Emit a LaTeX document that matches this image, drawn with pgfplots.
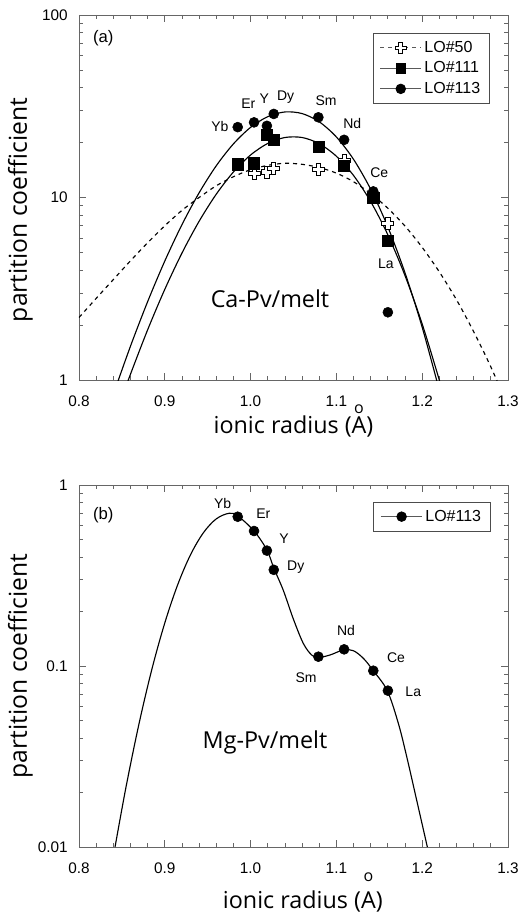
\documentclass[border=0pt]{standalone}
\usepackage{pgfplots}
\pgfplotsset{compat=1.18}
\usepackage{fontspec}
\setmainfont{Liberation Sans}
\newfontfamily\labelfont{Open Sans}

% open (white-filled) cross marker
\pgfdeclareplotmark{opencross}{%
  \pgfpathmoveto{\pgfqpoint{-0.35\pgfplotmarksize}{\pgfplotmarksize}}%
  \pgfpathlineto{\pgfqpoint{0.35\pgfplotmarksize}{\pgfplotmarksize}}%
  \pgfpathlineto{\pgfqpoint{0.35\pgfplotmarksize}{0.35\pgfplotmarksize}}%
  \pgfpathlineto{\pgfqpoint{\pgfplotmarksize}{0.35\pgfplotmarksize}}%
  \pgfpathlineto{\pgfqpoint{\pgfplotmarksize}{-0.35\pgfplotmarksize}}%
  \pgfpathlineto{\pgfqpoint{0.35\pgfplotmarksize}{-0.35\pgfplotmarksize}}%
  \pgfpathlineto{\pgfqpoint{0.35\pgfplotmarksize}{-\pgfplotmarksize}}%
  \pgfpathlineto{\pgfqpoint{-0.35\pgfplotmarksize}{-\pgfplotmarksize}}%
  \pgfpathlineto{\pgfqpoint{-0.35\pgfplotmarksize}{-0.35\pgfplotmarksize}}%
  \pgfpathlineto{\pgfqpoint{-\pgfplotmarksize}{-0.35\pgfplotmarksize}}%
  \pgfpathlineto{\pgfqpoint{-\pgfplotmarksize}{0.35\pgfplotmarksize}}%
  \pgfpathlineto{\pgfqpoint{-0.35\pgfplotmarksize}{0.35\pgfplotmarksize}}%
  \pgfpathclose
  \pgfusepathqfillstroke
}

% "A" with a ring set above it
\newcommand{\ringA}[1]{\ooalign{A\cr\hidewidth\raisebox{#1}{\fontsize{12}{12}\selectfont o}\hidewidth\cr}}

\tikzset{
  elem/.style={font=\fontsize{10.5}{12}\selectfont, anchor=center, inner sep=0pt},
}

\pgfplotsset{
  pcaxis/.style={
    scale only axis, width=321.75pt,
    xmin=0.8, xmax=1.3,
    xtick={0.8,0.9,1.0,1.1,1.2,1.3},
    xticklabels={0.8,0.9,1.0,1.1,1.2,1.3},
    minor x tick num=4,
    tick align=inside,
    xtick pos=both, ytick pos=both,
    major tick length=5.25pt, minor tick length=2.8pt,
    axis line style={black!60, line width=0.7pt},
    every tick/.style={black!60, line width=0.6pt},
    tick label style={font=\fontsize{11.5}{13}\selectfont, /pgf/number format/assume math mode=true},
    xticklabel style={yshift=-8.5pt},
    yticklabel style={xshift=-5pt},
    every axis x label/.style={at={(axis description cs:0.5,0)}, anchor=base, yshift=-39.75pt,
      font=\labelfont\fontsize{17.5}{20}\selectfont},
    every axis y label/.style={at={(axis description cs:-0.1368,0.5)}, anchor=center, rotate=90,
      font=\labelfont\fontsize{18.5}{20}\selectfont},
    legend style={anchor=north east, draw=black!70, line width=0.6pt,
      font=\fontsize{12}{13}\selectfont, cells={anchor=west},
      inner xsep=5pt, inner ysep=4pt, row sep=1.5pt},
    legend image code/.code={%
      \draw[mark repeat=2,mark phase=2,#1] plot coordinates {(0pt,0pt) (15.5pt,0pt) (31pt,0pt)};},
  },
  fitline/.style={black, line width=0.85pt, smooth, no markers},
}

\begin{document}
\begin{tikzpicture}
\useasboundingbox (-59.25pt,-400.5pt) rectangle (331.5pt,285pt);

% ---------------- (a) Ca-perovskite / melt ----------------
\begin{axis}[ymode=log, pcaxis,
  at={(0,0)}, anchor=south west, height=273.75pt,
  ymin=1, ymax=100,
  ytick={1,10,100}, yticklabels={1,10,100},
  minor ytick={2,3,4,5,6,7,8,9,20,30,40,50,60,70,80,90},
  xlabel={ionic radius (\ringA{15pt})},
  ylabel={partition coefficient},
  every axis y label/.append style={at={(axis description cs:-0.1368,0.466)}},
  legend style={at={(0.958,0.951)}},
]
\addlegendimage{black!65, dash pattern=on 3pt off 3pt, mark=opencross, mark size=4pt,
  mark options={solid, black, fill=white, line width=0.6pt}}
\addlegendentry{LO\#50}
\addlegendimage{black!65, mark=square*, mark size=3.6pt, mark options={black, fill=black}}
\addlegendentry{LO\#111}
\addlegendimage{black!65, mark=*, mark size=3.6pt, mark options={black, fill=black}}
\addlegendentry{LO\#113}

% lattice-strain fits
\addplot[fitline, dash pattern=on 3pt off 3pt, forget plot] coordinates {
 (0.80,2.20) (0.82,2.80) (0.84,3.55) (0.86,4.50) (0.88,5.65) (0.90,7.00)
 (0.92,8.50) (0.94,10.0) (0.96,11.6) (0.98,13.0) (1.00,14.2) (1.02,15.0)
 (1.04,15.4) (1.06,15.2) (1.08,14.6) (1.10,13.6) (1.12,12.2) (1.14,10.5)
 (1.16,8.73) (1.18,6.97) (1.20,5.33) (1.22,3.91) (1.24,2.75) (1.26,1.84)
 (1.28,1.18) (1.30,0.717)};
\addplot[fitline, forget plot] coordinates {
 (0.85,0.799) (0.86,1.076) (0.88,1.884) (0.90,3.139) (0.92,4.96) (0.94,7.41)
 (0.96,10.43) (0.98,13.80) (1.00,17.10) (1.02,19.79) (1.04,21.32) (1.06,21.32)
 (1.08,19.72) (1.10,16.83) (1.12,13.20) (1.14,9.49) (1.16,6.24) (1.18,3.73)
 (1.20,2.026) (1.22,0.997) (1.23,0.673)};
\addplot[fitline, forget plot] coordinates {
 (0.84,0.834) (0.86,1.532) (0.88,2.687) (0.90,4.487) (0.92,7.10) (0.94,10.61)
 (0.96,14.93) (0.98,19.68) (1.00,24.23) (1.02,27.74) (1.04,29.43) (1.06,28.84)
 (1.08,25.99) (1.10,21.46) (1.12,16.18) (1.14,11.09) (1.16,6.89) (1.18,3.86)
 (1.20,1.944) (1.22,0.877)};

% measured partition coefficients
\addplot[only marks, mark=opencross, mark size=4.5pt, mark options={black, fill=white, line width=0.6pt}, forget plot]
 coordinates {(1.004,13.6) (1.019,13.8) (1.027,14.5) (1.079,14.2) (1.109,16.0) (1.143,10.4) (1.160,7.2)};
\addplot[only marks, mark=square*, mark size=4.2pt, mark options={black, fill=black}, forget plot]
 coordinates {(0.985,15.2) (1.004,15.4) (1.019,22.0) (1.027,20.8) (1.079,19.0) (1.109,14.9) (1.143,10.0) (1.160,5.8)};
\addplot[only marks, mark=*, mark size=3.75pt, mark options={black, fill=black}, forget plot]
 coordinates {(0.985,24.3) (1.004,25.8) (1.019,24.7) (1.027,28.7) (1.079,27.5) (1.109,20.7) (1.143,10.8) (1.160,2.35)};

\node[elem] at (axis cs:0.9643,24.4) {Yb};
\node[elem] at (axis cs:0.9973,32.8) {Er};
\node[elem] at (axis cs:1.0160,34.7) {Y};
\node[elem] at (axis cs:1.0409,35.7) {Dy};
\node[elem] at (axis cs:1.0879,33.9) {Sm};
\node[elem] at (axis cs:1.1185,25.5) {Nd};
\node[elem] at (axis cs:1.1500,13.7) {Ce};
\node[elem] at (axis cs:1.1578,4.36) {La};
\node[font=\fontsize{12.5}{14}\selectfont, anchor=center] at (axis cs:0.8283,74.5) {(a)};
\node[font=\labelfont\fontsize{17.5}{20}\selectfont, anchor=center] at (axis cs:1.0226,2.78) {Ca-Pv/melt};
\end{axis}

% ---------------- (b) Mg-perovskite / melt ----------------
\begin{axis}[ymode=log, pcaxis,
  at={(0,-78.75pt)}, anchor=north west, height=271.5pt,
  ymin=0.01, ymax=1,
  ytick={0.01,0.1,1}, yticklabels={0.01,0.1,1},
  minor ytick={0.02,0.03,0.04,0.05,0.06,0.07,0.08,0.09,0.2,0.3,0.4,0.5,0.6,0.7,0.8,0.9},
  xlabel={ionic radius (\ringA{20pt})},
  every axis x label/.append style={yshift=-6pt, xshift=7pt},
  ylabel={partition coefficient},
  legend style={at={(0.960,0.954)}},
]
\addlegendimage{black!65, mark=*, mark size=3.6pt, mark options={black, fill=black}}
\addlegendentry{LO\#113}

\addplot[fitline, tension=0.55, forget plot] coordinates {
 (0.842,0.0100) (0.855,0.0217) (0.870,0.0481) (0.885,0.0962) (0.900,0.173)
 (0.915,0.281) (0.930,0.412) (0.945,0.545) (0.960,0.650) (0.975,0.698)
 (0.985,0.675) (1.004,0.557) (1.019,0.438) (1.027,0.348) (1.0381,0.262)
 (1.0498,0.182) (1.0614,0.1334) (1.0712,0.1150) (1.079,0.1115) (1.0925,0.1150)
 (1.108,0.1226) (1.1197,0.1215) (1.1314,0.1103) (1.143,0.0942) (1.1593,0.0731)
 (1.1722,0.0482) (1.182,0.0315) (1.1935,0.0182) (1.206,0.0100)};

\addplot[only marks, mark=*, mark size=3.75pt, mark options={black, fill=black}, forget plot]
 coordinates {(0.985,0.668) (1.004,0.557) (1.019,0.434) (1.027,0.340) (1.079,0.1126) (1.109,0.1236) (1.143,0.0942) (1.160,0.0731)};

\node[elem] at (axis cs:0.9675,0.792) {Yb};
\node[elem] at (axis cs:1.0148,0.698) {Er};
\node[elem] at (axis cs:1.0389,0.508) {Y};
\node[elem] at (axis cs:1.0526,0.354) {Dy};
\node[elem] at (axis cs:1.0646,0.0862) {Sm};
\node[elem] at (axis cs:1.1112,0.158) {Nd};
\node[elem] at (axis cs:1.1695,0.1107) {Ce};
\node[elem] at (axis cs:1.1896,0.0721) {La};
\node[font=\fontsize{12.5}{14}\selectfont, anchor=center] at (axis cs:0.8283,0.683) {(b)};
\node[font=\labelfont\fontsize{17.5}{20}\selectfont, anchor=center] at (axis cs:1.0168,0.0379) {Mg-Pv/melt};
\end{axis}
\end{tikzpicture}
\end{document}
